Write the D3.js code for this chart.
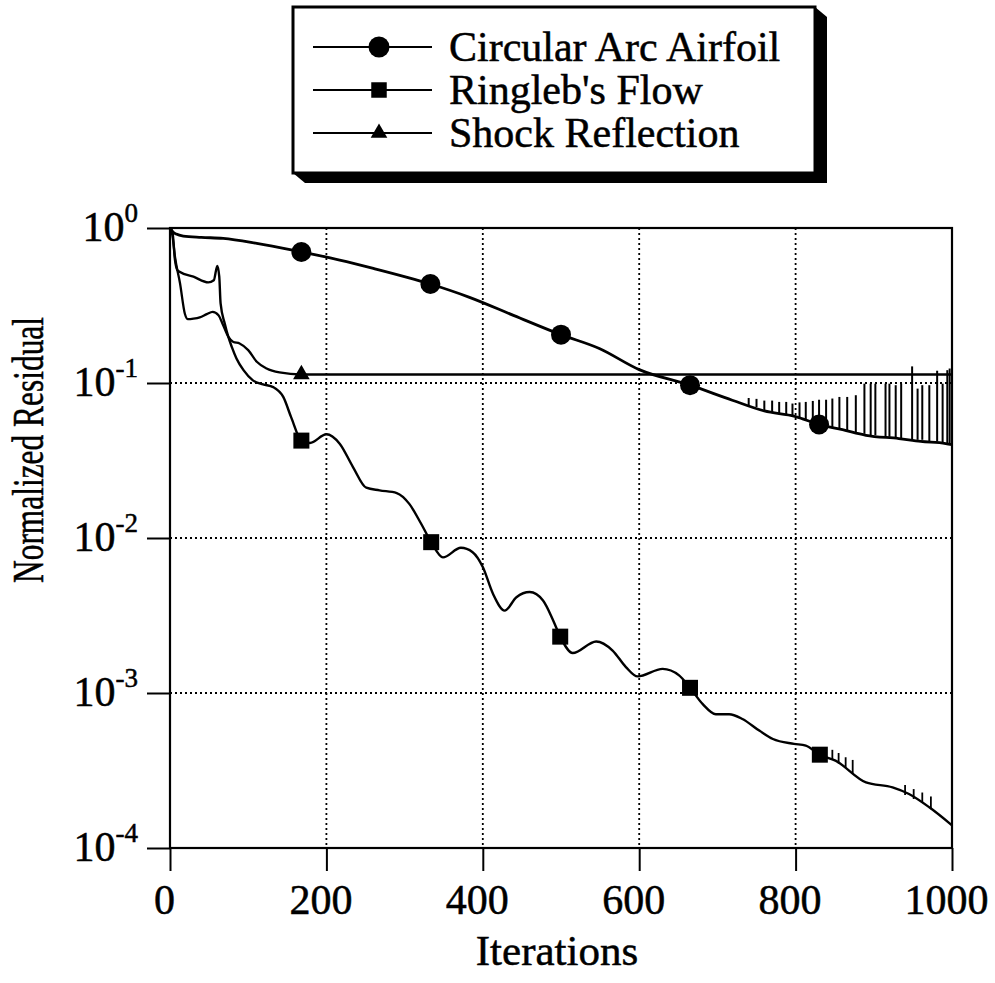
<!DOCTYPE html>
<html>
<head>
<meta charset="utf-8">
<script src="https://cdn.jsdelivr.net/npm/d3@7"></script>
<style>
body{margin:0;background:#fff}
svg text{font-family:"Liberation Serif","Times New Roman",serif;fill:#000;stroke:#000;stroke-width:0.5}
</style>
</head>
<body>
<svg id="chart"></svg>
<script>
/* données */
const iterTicks=[0,200,400,600,800,1000]
const residTicks=[1,1e-1,1e-2,1e-3,1e-4]
const residExp=['0','-1','-2','-3','-4']
const seriesNames=["Circular Arc Airfoil","Ringleb's Flow","Shock Reflection"]

// Circular Arc Airfoil
const arcIter=[0,3,8,17,40,68,111,168,217,260,333,383,440,500,549,600,665,719,760,799,830,860,890,932,960,992,1000]
const arcRes=[1.0,0.95,0.914,0.887,0.87,0.857,0.796,0.70,0.621,0.549,0.435,0.357,0.272,0.205,0.167,0.122,0.0968,0.0774,0.066,0.061,0.054,0.05,0.046,0.0438,0.042,0.0407,0.04]
const arcSpikes=[[740,0.072,0.080],[750,0.070,0.079],[760,0.066,0.077],[770,0.065,0.077],[779,0.063,0.0755],[788,0.062,0.0755],
  [796,0.061,0.0737],[805,0.059,0.075],[813,0.057,0.0755],[822,0.056,0.0766],[830,0.054,0.078],[839,0.053,0.078],
  [847,0.052,0.0794],[856,0.051,0.0813],[866,0.049,0.0813],[877,0.048,0.0834],[888,0.047,0.099],[896,0.046,0.099],
  [902,0.046,0.099],[915,0.045,0.099],[920,0.045,0.099],[928,0.044,0.0968],[935,0.044,0.099],[949,0.043,0.128],
  [956,0.043,0.092],[962,0.043,0.0968],[971,0.042,0.0968],[981,0.042,0.12],[988,0.041,0.099],[994,0.041,0.121],[997,0.040,0.124]]
const arcMarkIter=[168,333,500,665,830]
const arcMarkRes=[0.70,0.435,0.205,0.0968,0.054]

// Ringleb's Flow
const ringIter=[0,3,6.4,9.4,12.8,30,49,56,60.5,63,64.7,70,74.5,79,85,94,106,119,132,145,155,168,179,200,217,234,251,268,290,306,321,334,349,372,387,400,413,428,443,460,477,490,499,515,545,566,583,598,630,651,665,681,698,715,732,754,771,798,813,831,851,890,924,945,971,1000]
const ringRes=[1.0,0.95,0.62,0.535,0.52,0.485,0.446,0.46,0.57,0.485,0.326,0.242,0.199,0.171,0.144,0.121,0.104,0.098,0.094,0.081,0.060,0.0425,0.041,0.0467,0.0406,0.0287,0.0211,0.0203,0.0195,0.0166,0.0124,0.0094,0.0075,0.00865,0.0081,0.0065,0.00437,0.0034,0.00415,0.00448,0.00395,0.00294,0.00231,0.00181,0.00215,0.00188,0.00147,0.00128,0.00143,0.0013,0.00108,0.00085,0.00073,0.00073,0.00068,0.00057,0.000505,0.00047,0.000457,0.0004,0.000366,0.000265,0.000246,0.000223,0.000183,0.00014]
const ringSpikes=[[847,0.00037,0.00043],[855,0.00035,0.00041],[864,0.00033,0.000385],[873,0.0003,0.00037],
  [940,0.00022,0.000255],[951,0.000207,0.00024],[962,0.000197,0.000228],[973,0.000178,0.000215]]
const ringMarkIter=[168,334,499,665,831]
const ringMarkRes=[0.0425,0.0094,0.00231,0.00108,0.0004]

// Shock Reflection
const shockIter=[0,3,6.4,12.8,19,23,30,38,47,54.5,62,68,74.5,81,89,100,111,123.5,140,168,1000]
const shockRes=[1.0,0.9,0.65,0.44,0.28,0.258,0.26,0.265,0.278,0.288,0.274,0.236,0.199,0.184,0.18,0.163,0.137,0.124,0.117,0.1135,0.1135]
const shockMarkIter=[168]
const shockMarkRes=[0.1135]

/* dimensions */
const width=995, height=983
const plot={left:170,right:952,top:228,bottom:848}

const svg=d3.select('#chart').attr('width',width).attr('height',height)

const xScale=d3.scaleLinear().domain([0,1000]).range([plot.left,plot.right])
const yScale=d3.scaleLog().domain([1e-4,1]).range([plot.bottom,plot.top])

const zip=(a,b)=>a.map((v,i)=>[v,b[i]])

/* grille pointillée */
const grid=svg.append('g')
grid.selectAll('.vg').data(iterTicks.slice(1,-1)).enter().append('line')
    .attr('x1',d=>xScale(d)).attr('x2',d=>xScale(d))
    .attr('y1',plot.top).attr('y2',plot.bottom)
    .attr('stroke','#000').attr('stroke-width',1.8).attr('stroke-dasharray','2,3')
grid.selectAll('.hg').data(residTicks.slice(1,-1)).enter().append('line')
    .attr('y1',d=>yScale(d)).attr('y2',d=>yScale(d))
    .attr('x1',plot.left).attr('x2',plot.right)
    .attr('stroke','#000').attr('stroke-width',1.8).attr('stroke-dasharray','2,3')

/* axes */
const xAxis=d3.axisBottom(xScale).tickValues(iterTicks).tickSize(23).tickSizeOuter(0)
              .tickFormat(d3.format('d'))
const xg=svg.append('g').attr('transform','translate(0,'+plot.bottom+')').call(xAxis)
xg.select('.domain').remove()
xg.selectAll('line').attr('stroke','#000').attr('stroke-width',2)
xg.selectAll('text').attr('font-size',42).attr('x',-6).attr('y',66).attr('dy',0)
  .style('font-family','"Liberation Serif",serif').attr('fill','#000')

const yAxis=d3.axisLeft(yScale).tickValues(residTicks).tickSize(23).tickSizeOuter(0).tickFormat('')
const yg=svg.append('g').attr('transform','translate('+plot.left+',0)').call(yAxis)
yg.select('.domain').remove()
yg.selectAll('line').attr('stroke','#000').attr('stroke-width',2)

// étiquettes 10^n
const yLab=svg.append('g').selectAll('text').data(residTicks).enter().append('text')
    .attr('x',plot.left-32).attr('y',d=>yScale(d)+12.5)
    .attr('text-anchor','end').attr('font-size',42)
yLab.append('tspan').text('10')
yLab.append('tspan').attr('dy',-19).attr('font-size',27).text((d,i)=>residExp[i])

// cadre
svg.append('rect').attr('x',plot.left).attr('y',plot.top)
   .attr('width',plot.right-plot.left).attr('height',plot.bottom-plot.top)
   .attr('fill','none').attr('stroke','#000').attr('stroke-width',2.2)

/* titres des axes */
svg.append('text').attr('transform','translate(43,450) rotate(-90)')
   .attr('text-anchor','middle').attr('font-size',44)
   .attr('textLength',266).attr('lengthAdjust','spacingAndGlyphs')
   .text('Normalized Residual')
svg.append('text').attr('x',557).attr('y',965).attr('text-anchor','middle')
   .attr('font-size',43).text('Iterations')

/* courbes */
const line=d3.line().x(d=>xScale(d[0])).y(d=>yScale(d[1])).curve(d3.curveMonotoneX)
const seg=d3.line().x(d=>xScale(d[0])).y(d=>yScale(d[1]))

const curves=svg.append('g').attr('fill','none').attr('stroke','#000').attr('stroke-linejoin','round')
curves.append('path').attr('d',line(zip(shockIter,shockRes))).attr('stroke-width',2.3)
curves.append('path').attr('d',line(zip(ringIter,ringRes))).attr('stroke-width',2.4)
curves.append('path').attr('d',line(zip(arcIter,arcRes))).attr('stroke-width',2.8)

curves.selectAll('.aspk').data(arcSpikes).enter().append('path')
      .attr('d',d=>seg([[d[0],d[1]],[d[0],d[2]]])).attr('stroke-width',2)
curves.selectAll('.rspk').data(ringSpikes).enter().append('path')
      .attr('d',d=>seg([[d[0],d[1]],[d[0],d[2]]])).attr('stroke-width',1.8)

/* marqueurs */
const markers=svg.append('g').attr('fill','#000')
markers.selectAll('circle').data(zip(arcMarkIter,arcMarkRes)).enter().append('circle')
       .attr('cx',d=>xScale(d[0])).attr('cy',d=>yScale(d[1])).attr('r',10)
markers.selectAll('.sq').data(zip(ringMarkIter,ringMarkRes)).enter().append('path')
       .attr('d',d3.symbol(d3.symbolSquare,256))
       .attr('transform',d=>'translate('+xScale(d[0])+','+yScale(d[1])+')')
markers.selectAll('.tri').data(zip(shockMarkIter,shockMarkRes)).enter().append('path')
       .attr('d',d3.symbol(d3.symbolTriangle,120))
       .attr('transform',d=>'translate('+xScale(d[0])+','+yScale(d[1])+')')

/* légende */
const box={x:293,y:7,w:522,h:166,dx:12,dy:10}
const legend=svg.append('g')
legend.append('path')
      .attr('d','M'+box.x+','+(box.y+box.h)+'L'+(box.x+box.dx)+','+(box.y+box.h+box.dy)
        +'L'+(box.x+box.w+box.dx)+','+(box.y+box.h+box.dy)+'L'+(box.x+box.w+box.dx)+','+(box.y+box.dy)
        +'L'+(box.x+box.w)+','+box.y+'Z')
      .attr('fill','#000')
legend.append('rect').attr('x',box.x).attr('y',box.y).attr('width',box.w).attr('height',box.h)
      .attr('fill','#fff').attr('stroke','#000').attr('stroke-width',3)

const rowY=[47,90,133]
const symbols=[null,d3.symbolSquare,d3.symbolTriangle]
seriesNames.forEach((name,i)=>{
    legend.append('line').attr('x1',313).attr('x2',432).attr('y1',rowY[i]).attr('y2',rowY[i])
          .attr('stroke','#000').attr('stroke-width',2.2)
    if(i==0){
        legend.append('circle').attr('cx',379).attr('cy',rowY[i]).attr('r',10.5).attr('fill','#000')
    }else{
        legend.append('path').attr('d',d3.symbol(symbols[i],i==1?240:120))
              .attr('transform','translate(379,'+rowY[i]+')').attr('fill','#000')
    }
    legend.append('text').attr('x',449).attr('y',rowY[i]+13.5).attr('font-size',42).text(name)
})
</script>
</body>
</html>
